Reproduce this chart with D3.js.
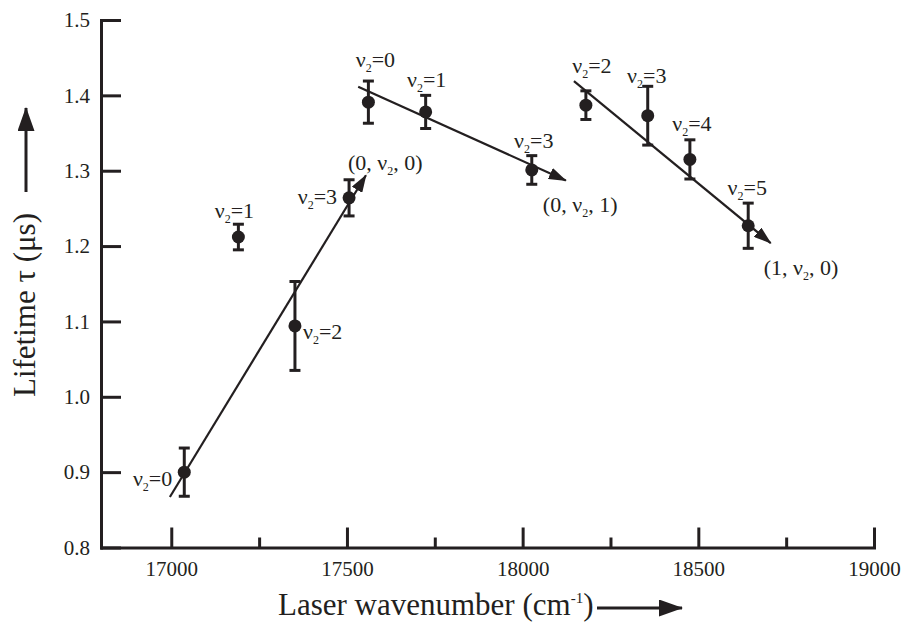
<!DOCTYPE html>
<html>
<head>
<meta charset="utf-8">
<script src="https://cdn.jsdelivr.net/npm/d3@7"></script>
<style>
  body { margin: 0; background: #fff; }
  text { font-family: "Liberation Serif", "Times New Roman", serif; fill: #231f20; }
</style>
</head>
<body>
<div id="chart"></div>
<script>
// measured points
const wavenumber = [17037, 17191, 17352, 17506, 17561, 17724, 18026, 18180, 18356, 18476, 18642];
const lifetime   = [0.900, 1.212, 1.094, 1.264, 1.391, 1.378, 1.301, 1.387, 1.373, 1.315, 1.227];
const errorBar   = [0.032, 0.017, 0.059, 0.024, 0.028, 0.022, 0.019, 0.019, 0.039, 0.026, 0.030];
const v2         = [0, 1, 2, 3, 0, 1, 3, 2, 3, 4, 5];

// progression lines (0,v2,0), (0,v2,1), (1,v2,0)
const progStartX = [16996, 17532, 18146];
const progStartY = [0.867, 1.4115, 1.419];
const progEndX   = [17554, 18123, 18706];
const progEndY   = [1.294, 1.287, 1.204];
const progLabel  = [['(0, ν', ', 0)'], ['(0, ν', ', 1)'], ['(1, ν', ', 0)']];

const xMajorTicks = [17000, 17500, 18000, 18500, 19000];
const xMinorTicks = [17250, 17750, 18250, 18750];
const yTicks = [0.8, 0.9, 1.0, 1.1, 1.2, 1.3, 1.4, 1.5];

// label placement relative to the point (dx, dy, anchor)
const pointLabelPos = [
  [-12, 14, 'end'], [-4, -19, 'middle'], [8, 13, 'start'], [-12, 6, 'end'],
  [7, -35, 'middle'], [1, -25, 'middle'], [2, -22, 'middle'], [6, -32, 'middle'],
  [-1, -33, 'middle'], [2, -28, 'middle'], [-1, -31, 'middle']
];
const progLabelPos = [[-18, -5], [-23, 31], [-7, 32]];

const width = 901, height = 622;
const margin = {top: 20, right: 27, bottom: 74.5, left: 101};
const ink = '#231f20';

const svg = d3.select('#chart').append('svg')
    .attr('width', width)
    .attr('height', height);

const x = d3.scaleLinear()
    .domain([16800, 19000])
    .range([margin.left, width - margin.right]);

const y = d3.scaleLinear()
    .domain([0.8, 1.5])
    .range([height - margin.bottom, margin.top]);

const defs = svg.append('defs');
defs.append('marker')
    .attr('id', 'head')
    .attr('viewBox', '0 0 18 12')
    .attr('refX', 17).attr('refY', 6)
    .attr('markerWidth', 18).attr('markerHeight', 12)
    .attr('markerUnits', 'userSpaceOnUse')
    .attr('orient', 'auto')
  .append('path')
    .attr('d', 'M0,0L18,6L0,12Z')
    .attr('fill', ink);
defs.append('marker')
    .attr('id', 'bighead')
    .attr('viewBox', '0 0 24 17')
    .attr('refX', 23).attr('refY', 8.5)
    .attr('markerWidth', 24).attr('markerHeight', 17)
    .attr('markerUnits', 'userSpaceOnUse')
    .attr('orient', 'auto')
  .append('path')
    .attr('d', 'M0,0L24,8.5L0,17Z')
    .attr('fill', ink);

// x axis: major and minor ticks point inward
const xAxisG = svg.append('g')
    .attr('transform', `translate(0,${y(0.8)})`)
    .call(d3.axisBottom(x).tickValues(xMajorTicks).tickSize(-20).tickSizeOuter(0)
      .tickPadding(14).tickFormat(d3.format('d')));
svg.append('g')
    .attr('transform', `translate(0,${y(0.8)})`)
    .call(d3.axisBottom(x).tickValues(xMinorTicks).tickSize(-10).tickSizeOuter(0).tickFormat(''))
    .call(g => g.select('.domain').remove());

const yAxisG = svg.append('g')
    .attr('transform', `translate(${x(16800)},0)`)
    .call(d3.axisLeft(y).tickValues(yTicks).tickSize(-20).tickSizeOuter(0)
      .tickPadding(11).tickFormat(d3.format('.1f')));

svg.selectAll('.domain, .tick line')
    .attr('stroke', ink)
    .attr('stroke-width', 3);
svg.selectAll('.domain').attr('stroke-linecap', 'square');
svg.selectAll('.tick text')
    .attr('font-family', null)
    .attr('font-size', 21)
    .attr('fill', ink);
xAxisG.attr('font-family', null);
yAxisG.attr('font-family', null);

// axis titles with arrows
const xTitle = svg.append('text')
    .attr('x', 278)
    .attr('y', 615)
    .attr('font-size', 31);
xTitle.append('tspan').text('Laser wavenumber (cm');
xTitle.append('tspan').attr('font-size', 15).attr('dy', -12).text('-1');
xTitle.append('tspan').attr('dy', 12).text(')');
svg.append('line')
    .attr('x1', 597).attr('x2', 682)
    .attr('y1', 608).attr('y2', 608)
    .attr('stroke', ink).attr('stroke-width', 3)
    .attr('marker-end', 'url(#bighead)');

svg.append('text')
    .attr('transform', 'translate(35,305) rotate(-90)')
    .attr('text-anchor', 'middle')
    .attr('font-size', 31)
    .text('Lifetime τ (μs)');
svg.append('line')
    .attr('x1', 26).attr('x2', 26)
    .attr('y1', 192).attr('y2', 108)
    .attr('stroke', ink).attr('stroke-width', 3)
    .attr('marker-end', 'url(#bighead)');

// progression lines
const idx = d3.range(progStartX.length);
svg.append('g').selectAll('line')
    .data(idx)
  .join('line')
    .attr('x1', i => x(progStartX[i]))
    .attr('y1', i => y(progStartY[i]))
    .attr('x2', i => x(progEndX[i]))
    .attr('y2', i => y(progEndY[i]))
    .attr('stroke', ink)
    .attr('stroke-width', 2.2)
    .attr('marker-end', 'url(#head)');

const progText = svg.append('g').selectAll('text')
    .data(idx)
  .join('text')
    .attr('x', i => x(progEndX[i]) + progLabelPos[i][0])
    .attr('y', i => y(progEndY[i]) + progLabelPos[i][1])
    .attr('font-size', 22);
progText.append('tspan').text(i => progLabel[i][0]);
progText.append('tspan').attr('font-size', 12).attr('dy', 5).text('2');
progText.append('tspan').attr('dy', -5).text(i => progLabel[i][1]);

// error bars and points
const pts = d3.range(wavenumber.length);
const bars = svg.append('g')
    .attr('stroke', ink)
    .attr('stroke-width', 3);
bars.selectAll('.stem')
    .data(pts)
  .join('line')
    .attr('class', 'stem')
    .attr('x1', i => x(wavenumber[i])).attr('x2', i => x(wavenumber[i]))
    .attr('y1', i => y(lifetime[i] + errorBar[i]))
    .attr('y2', i => y(lifetime[i] - errorBar[i]));
bars.selectAll('.capTop')
    .data(pts)
  .join('line')
    .attr('class', 'capTop')
    .attr('x1', i => x(wavenumber[i]) - 5.5).attr('x2', i => x(wavenumber[i]) + 5.5)
    .attr('y1', i => y(lifetime[i] + errorBar[i]))
    .attr('y2', i => y(lifetime[i] + errorBar[i]));
bars.selectAll('.capBottom')
    .data(pts)
  .join('line')
    .attr('class', 'capBottom')
    .attr('x1', i => x(wavenumber[i]) - 5.5).attr('x2', i => x(wavenumber[i]) + 5.5)
    .attr('y1', i => y(lifetime[i] - errorBar[i]))
    .attr('y2', i => y(lifetime[i] - errorBar[i]));

svg.append('g').selectAll('circle')
    .data(pts)
  .join('circle')
    .attr('cx', i => x(wavenumber[i]))
    .attr('cy', i => y(lifetime[i]))
    .attr('r', 6.5)
    .attr('fill', ink);

// v2 labels
const vText = svg.append('g').selectAll('text')
    .data(pts)
  .join('text')
    .attr('x', i => x(wavenumber[i]) + pointLabelPos[i][0])
    .attr('y', i => y(lifetime[i]) + pointLabelPos[i][1])
    .attr('text-anchor', i => pointLabelPos[i][2])
    .attr('font-size', 22);
vText.append('tspan').text('ν');
vText.append('tspan').attr('font-size', 12).attr('dy', 5).text('2');
vText.append('tspan').attr('dy', -5).text(i => '=' + v2[i]);
</script>
</body>
</html>
